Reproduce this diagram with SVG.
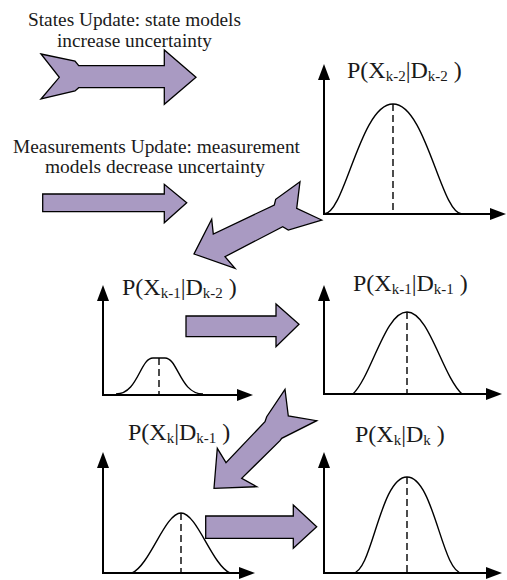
<svg xmlns="http://www.w3.org/2000/svg" width="507" height="580" viewBox="0 0 507 580">
<style>
  .cap { font-family: "Liberation Serif", "Times New Roman", serif; font-size: 19px; fill: #1a1a1a; text-anchor: middle; }
  .lbl { font-family: "Liberation Serif", "Times New Roman", serif; font-size: 24px; fill: #1a1a1a; }
  .sub { font-size: 15px; }
  .big { fill: #A99AC2; stroke: #000; stroke-width: 1.3; stroke-linejoin: miter; }
  .axis { fill: none; stroke: #000; stroke-width: 2; }
  .curve { fill: none; stroke: #000; stroke-width: 1.4; }
  .dash { fill: none; stroke: #000; stroke-width: 1.4; stroke-dasharray: 7 4; }
</style>
<defs>
  <marker id="ah" markerUnits="userSpaceOnUse" markerWidth="16" markerHeight="12" viewBox="0 0 16 12" refX="0" refY="6" orient="auto-start-reverse">
    <path d="M0,0 L16,6 L0,12 Z" fill="#000"/>
  </marker>
</defs>

<g id="legend-states">
  <text class="cap" x="134.5" y="26" textLength="213" lengthAdjust="spacingAndGlyphs">States Update: state models</text>
  <text class="cap" x="134.5" y="47" textLength="155" lengthAdjust="spacingAndGlyphs">increase uncertainty</text>
  <polygon class="big" points="41,54 75,61 78.7,65.7 164.3,65.7 164.3,50 196,77.3 164.3,104.3 164.3,87.7 78.7,87.7 75,91 41,99 59.3,77.3"/>
</g>

<g id="legend-measurements">
  <text class="cap" x="156.5" y="153" textLength="287" lengthAdjust="spacingAndGlyphs">Measurements Update: measurement</text>
  <text class="cap" x="155" y="173" textLength="220" lengthAdjust="spacingAndGlyphs">models decrease uncertainty</text>
  <polygon class="big" points="42.7,194 164.3,194 164.3,184.3 186.7,202.7 164.3,222.7 164.3,211.7 42.7,211.7"/>
</g>

<g id="graph-k2-k2">
  <text class="lbl" x="347" y="78">P(X<tspan class="sub" dy="3">k-2</tspan><tspan dy="-3">|D</tspan><tspan class="sub" dy="3">k-2</tspan><tspan dy="-3"> )</tspan></text>
  <path class="axis" d="M324,80 V214 H490" marker-start="url(#ah)" marker-end="url(#ah)"/>
  <path class="curve" d="M324,214 C345,214 360,104 393,104 C426,104 441,214 462,214"/>
  <line class="dash" x1="393" y1="104" x2="393" y2="214"/>
</g>

<g id="graph-k1-k2">
  <text class="lbl" x="122" y="295">P(X<tspan class="sub" dy="3">k-1</tspan><tspan dy="-3">|D</tspan><tspan class="sub" dy="3">k-2</tspan><tspan dy="-3"> )</tspan></text>
  <path class="axis" d="M103,301 V395 H237" marker-start="url(#ah)" marker-end="url(#ah)"/>
  <path class="curve" d="M116,394 C138,394 140,358 153,358 L165,358 C178,358 180,394 203,394"/>
  <line class="dash" x1="159" y1="358" x2="159" y2="395"/>
</g>

<g id="graph-k1-k1">
  <text class="lbl" x="353" y="291">P(X<tspan class="sub" dy="3">k-1</tspan><tspan dy="-3">|D</tspan><tspan class="sub" dy="3">k-1</tspan><tspan dy="-3"> )</tspan></text>
  <path class="axis" d="M324,301 V394 H486" marker-start="url(#ah)" marker-end="url(#ah)"/>
  <path class="curve" d="M353,394 C372,375 385,312 407,312 C429,312 442,375 462,394"/>
  <line class="dash" x1="407" y1="312" x2="407" y2="394"/>
</g>

<g id="graph-k-k1">
  <text class="lbl" x="128" y="440">P(X<tspan class="sub" dy="3">k</tspan><tspan dy="-3">|D</tspan><tspan class="sub" dy="3">k-1</tspan><tspan dy="-3"> )</tspan></text>
  <path class="axis" d="M103,468 V573 H239" marker-start="url(#ah)" marker-end="url(#ah)"/>
  <path class="curve" d="M132,573 C150,565 165,513 181,513 C197,513 212,565 230,573"/>
  <line class="dash" x1="181" y1="513" x2="181" y2="573"/>
</g>

<g id="graph-k-k">
  <text class="lbl" x="355" y="442">P(X<tspan class="sub" dy="3">k</tspan><tspan dy="-3">|D</tspan><tspan class="sub" dy="3">k</tspan><tspan dy="-3"> )</tspan></text>
  <path class="axis" d="M324,468 V573 H486" marker-start="url(#ah)" marker-end="url(#ah)"/>
  <path class="curve" d="M353,573 C372,573 380,477 407,477 C434,477 442,573 462,573"/>
  <line class="dash" x1="407" y1="477" x2="407" y2="573"/>
</g>

<g id="connectors">
  <polygon class="big" points="300,181.7 275.7,199.3 274.3,205 213.3,234 211.7,219.3 194,254 235,268.3 225,256.7 282.7,226.7 288.3,230 321.7,220 296.7,208.3"/>
  <polygon class="big" points="186,316 276,316 276,304 299,324.3 276,346.7 276,336.7 186,336.7"/>
  <polygon class="big" points="285,389.3 266.7,416.7 265,421.7 226,462.7 217.3,448.3 214,488.3 256.7,486.7 241.7,478.3 280,440.7 281.7,438.3 316.7,420.7 288.3,416"/>
  <polygon class="big" points="205.7,516 293.3,516 293.3,505 316.7,526.7 293.3,548.3 293.3,538.3 205.7,538.3"/>
</g>
</svg>
